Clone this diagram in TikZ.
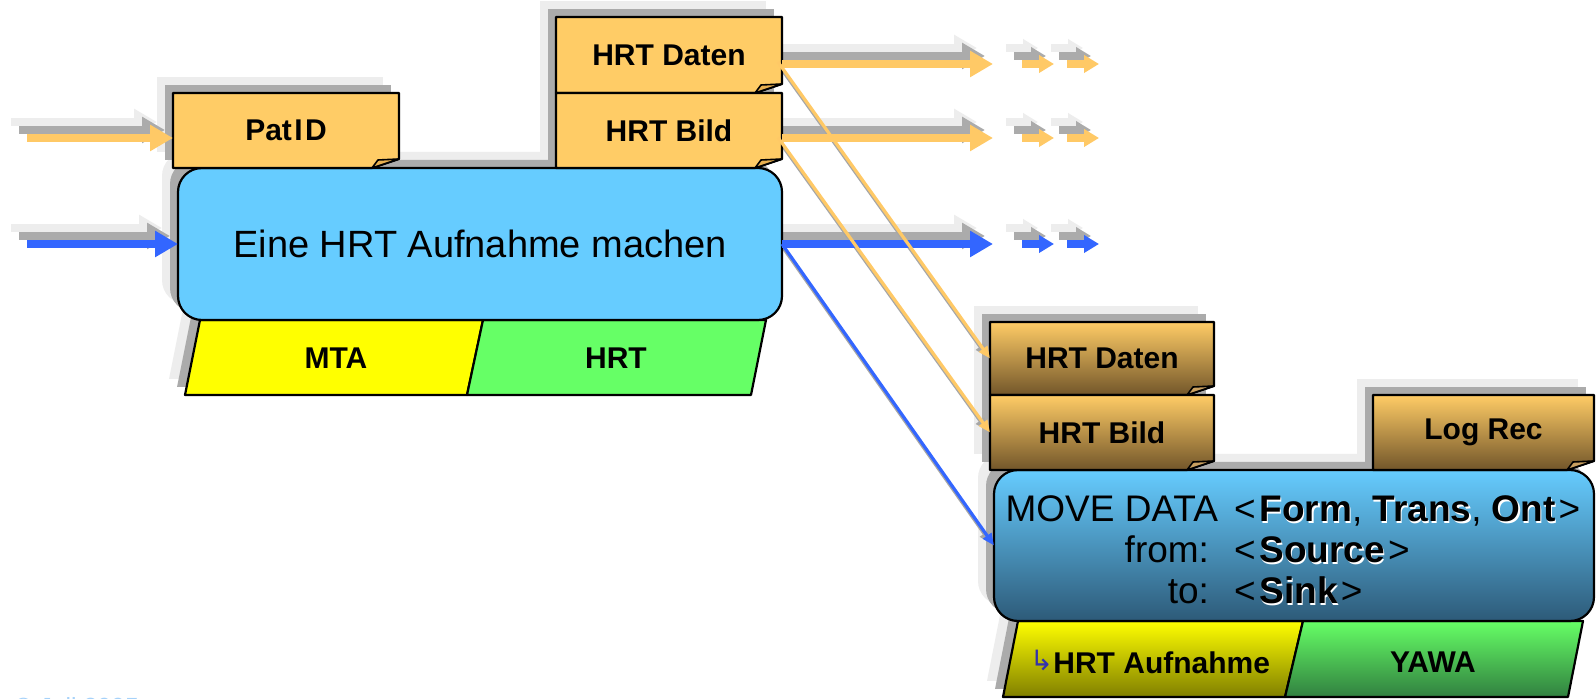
\documentclass[tikz,border=0pt]{standalone}
\usepackage{fontspec}
\setmainfont{Liberation Sans}
\newfontfamily\symf{DejaVu Sans}
\usetikzlibrary{arrows.meta,calc}
\definecolor{noteor}{HTML}{FFCC66}
\definecolor{notedark}{HTML}{72562A}
\definecolor{foldor}{HTML}{E8B050}
\definecolor{foldlow}{HTML}{C9A060}
\definecolor{boxblue}{HTML}{66CCFF}
\definecolor{boxbluedark}{HTML}{2D5A78}
\definecolor{arrblue}{HTML}{3366FF}
\definecolor{arror}{HTML}{FFC966}
\definecolor{yel}{HTML}{FFFF00}
\definecolor{yeldark}{HTML}{807F00}
\definecolor{grn}{HTML}{66FF66}
\definecolor{grndark}{HTML}{318040}
\definecolor{shd}{HTML}{ABABAB}
\definecolor{shl}{HTML}{EDEDED}
\definecolor{symblue}{HTML}{3333AA}
\definecolor{footblue}{HTML}{A6D2FA}
\pgfdeclarelayer{bg}
\pgfdeclarelayer{shadowl}
\pgfdeclarelayer{shadowd}
\pgfdeclarelayer{boxes}
\pgfsetlayers{bg,shadowl,shadowd,boxes,main}

\newcommand\embos[1]{\makebox[0pt][l]{\kern0.6pt\raisebox{-0.6pt}{\color{white}#1}}#1}

\tikzset{
  lbl/.style={inner sep=0pt, outer sep=0pt, font=\fontsize{15}{17}\selectfont\bfseries},
  bord/.style={draw=black, line width=1.1pt, line join=round},
  bigarr/.style={line width=4pt, -{Triangle[length=11.5pt,width=12.5pt]}},
  smallarr/.style={line width=4pt, -{Triangle[length=7.5pt,width=8.5pt]}},
  thinarr/.style={line width=1.6pt, -{Triangle[length=6pt,width=5pt]}},
  txt/.style={inner sep=0pt, outer sep=0pt, font=\fontsize{18.5}{22}\selectfont},
}

\newcommand\shadrect[3][]{%
  \begin{pgfonlayer}{shadowl}\fill[shl,#1] ([shift={(-16,-16)}]#2) rectangle ([shift={(-16,-16)}]#3);\end{pgfonlayer}%
  \begin{pgfonlayer}{shadowd}\fill[shd,#1] ([shift={(-8,-8)}]#2) rectangle ([shift={(-8,-8)}]#3);\end{pgfonlayer}}

\newcommand\shadpoly[1]{%
  \begin{pgfonlayer}{shadowl}\begin{scope}[shift={(-16,-16)}]\fill[shl] #1;\end{scope}\end{pgfonlayer}%
  \begin{pgfonlayer}{shadowd}\begin{scope}[shift={(-8,-8)}]\fill[shd] #1;\end{scope}\end{pgfonlayer}}

\newcommand\notebox[3]{%
  \begin{pgfonlayer}{boxes}%
  \path[bord,#2] (#1.north west) -- (#1.north east) -- ([yshift=4.5pt]#1.south east) -- ([xshift=-13.5pt]#1.south east) -- (#1.south west) -- cycle;
  \path[bord,fill=#3,line width=0.8pt] ([xshift=-13.5pt]#1.south east) -- ([xshift=-10.5pt,yshift=4pt]#1.south east) -- ([yshift=4.5pt]#1.south east) -- cycle;
  \end{pgfonlayer}}

\newcommand\fatarrow[3]{%
  \begin{pgfonlayer}{shadowl}\draw[#3,shl] ([shift={(-16,-16)}]#1) -- ([shift={(-16,-16)}]#2);\end{pgfonlayer}%
  \begin{pgfonlayer}{shadowd}\draw[#3,shd] ([shift={(-8,-8)}]#1) -- ([shift={(-8,-8)}]#2);\end{pgfonlayer}%
  \draw[#3] (#1) -- (#2);}

\newcommand\thinarrow[3]{%
  \begin{pgfonlayer}{shadowd}\draw[thinarr,gray!70] ([shift={(-3,-2)}]#1) -- ([shift={(-3,-2)}]#2);\end{pgfonlayer}%
  \draw[thinarr,#3] (#1) -- (#2);}

\begin{document}
\begin{tikzpicture}[x=0.5pt,y=-0.5pt]
\useasboundingbox (0,0) rectangle (1596,699);
\begin{pgfonlayer}{bg}\fill[white] (0,0) rectangle (1596,699);\end{pgfonlayer}

% ---------- nodes (text) ----------
\node[lbl, minimum width=113pt, minimum height=37.5pt] (patid) at (286,130.5) {Pat\kern1.2pt I\kern1.2pt D};
\node[lbl, minimum width=113pt, minimum height=38pt] (hrtd) at (669,55) {HRT Daten};
\node[lbl, minimum width=113pt, minimum height=37.5pt] (hrtb) at (669,130.5) {HRT Bild};
\node[inner sep=0pt, outer sep=0pt, minimum width=302pt, minimum height=76pt, font=\fontsize{19}{22}\selectfont] (main) at (480,244) {Eine HRT Aufnahme machen};
\node[lbl] (mta) at (336,358) {MTA};
\node[lbl] (hrt) at (616,358) {HRT};

\node[lbl, minimum width=112pt, minimum height=36.5pt] (lhrtd) at (1102,358.5) {HRT Daten};
\node[lbl, minimum width=112pt, minimum height=37.5pt] (lhrtb) at (1102,432.5) {HRT Bild};
\node[lbl, minimum width=110.5pt, minimum height=37.5pt] (logrec) at (1483.5,432.5) {Log Rec};
\node[inner sep=0pt, outer sep=0pt, minimum width=300pt, minimum height=75.5pt] (lmain) at (1294,545.5) {};
\node[txt, anchor=base east] (mv) at (1218,522) {MOVE DATA};
\node[txt, anchor=base west] (mvv) at (1234,522) {<\kern2pt\embos{\textbf{Form}}, \embos{\textbf{Trans}}, \embos{\textbf{Ont}}\kern1.5pt>};
\node[txt, anchor=base east] (fr) at (1209,563) {from:};
\node[txt, anchor=base west] (frv) at (1234,563) {<\kern2pt\embos{\textbf{Source}}\kern1.5pt>};
\node[txt, anchor=base east] (tol) at (1209,604) {to:};
\node[txt, anchor=base west] (tov) at (1234,604) {<\kern2pt\embos{\textbf{Sink}}\kern1.5pt>};
\node[lbl] (aufn) at (1150,662) {\raisebox{1.5pt}{\symf\mdseries\color{symblue}\fontsize{14}{16}\selectfont ↳}HRT Aufnahme};
\node[lbl] (yawa) at (1433,662) {YAWA};

\node[anchor=base west, inner sep=0pt, text=footblue, font=\fontsize{12.4}{14}\selectfont] (foot) at (14,716) {© Juli 2005};

% ---------- shadows ----------
\shadrect{patid.north west}{patid.south east}
\shadrect{hrtd.north west}{hrtb.south east}
\shadrect[rounded corners=12pt]{main.north west}{main.south east}
\shadpoly{(200,320) -- (766,320) -- (751,395) -- (185,395) -- cycle}
\shadrect{lhrtd.north west}{lhrtb.south east}
\shadrect{logrec.north west}{logrec.south east}
\shadrect[rounded corners=12pt]{lmain.north west}{lmain.south east}
\shadpoly{(1018,621) -- (1583,621) -- (1568,697) -- (1003,697) -- cycle}

% ---------- boxes ----------
\begin{pgfonlayer}{boxes}
\path[bord, fill=yel] (200,320) -- (483,320) -- (467,395) -- (185,395) -- cycle;
\path[bord, fill=grn] (483,320) -- (766,320) -- (751,395) -- (467,395) -- cycle;
\path[bord, fill=boxblue, rounded corners=12pt] (main.north west) rectangle (main.south east);
\path[bord, top color=yel, bottom color=yeldark] (1018,621) -- (1303,621) -- (1285,697) -- (1003,697) -- cycle;
\path[bord, top color=grn, bottom color=grndark] (1303,621) -- (1583,621) -- (1568,697) -- (1285,697) -- cycle;
\path[bord, top color=boxblue, bottom color=boxbluedark, rounded corners=12pt] (lmain.north west) rectangle (lmain.south east);
\end{pgfonlayer}
\notebox{patid}{fill=noteor}{foldor}
\notebox{hrtd}{fill=noteor}{foldor}
\notebox{hrtb}{fill=noteor}{foldor}
\notebox{lhrtd}{top color=noteor, bottom color=notedark}{foldlow}
\notebox{lhrtb}{top color=noteor, bottom color=notedark}{foldlow}
\notebox{logrec}{top color=noteor, bottom color=notedark}{foldlow}

% ---------- arrows ----------
\coordinate (inA) at (27,138);
\coordinate (inAe) at (inA -| patid.west);
\coordinate (inB) at (27,244);
\fatarrow{inA}{inAe}{bigarr,arror}
\fatarrow{inB}{main.west}{bigarr,arrblue}

\coordinate (oA) at (993,64);  \coordinate (oAs) at (oA -| hrtd.east);
\coordinate (oB) at (993,138); \coordinate (oBs) at (oB -| hrtb.east);
\coordinate (oC) at (993,244);
\fatarrow{oAs}{oA}{bigarr,arror}
\fatarrow{oBs}{oB}{bigarr,arror}
\fatarrow{main.east}{oC}{bigarr,arrblue}

\coordinate (a1s) at (1022,64);  \coordinate (a1e) at (1054,64);
\coordinate (a2s) at (1067,64);  \coordinate (a2e) at (1099,64);
\coordinate (b1s) at (1022,138); \coordinate (b1e) at (1054,138);
\coordinate (b2s) at (1067,138); \coordinate (b2e) at (1099,138);
\coordinate (c1s) at (1022,244); \coordinate (c1e) at (1054,244);
\coordinate (c2s) at (1067,244); \coordinate (c2e) at (1099,244);
\fatarrow{a1s}{a1e}{smallarr,arror}
\fatarrow{a2s}{a2e}{smallarr,arror}
\fatarrow{b1s}{b1e}{smallarr,arror}
\fatarrow{b2s}{b2e}{smallarr,arror}
\fatarrow{c1s}{c1e}{smallarr,arrblue}
\fatarrow{c2s}{c2e}{smallarr,arrblue}

\coordinate (dA) at ([xshift=-2pt,yshift=-3.5pt]hrtd.east);
\coordinate (dB) at ([xshift=-2pt,yshift=-3.5pt]hrtb.east);
\thinarrow{main.east}{lmain.west}{arrblue}
\thinarrow{dA}{lhrtd.west}{arror}
\thinarrow{dB}{lhrtb.west}{arror}
\end{tikzpicture}
\end{document}
